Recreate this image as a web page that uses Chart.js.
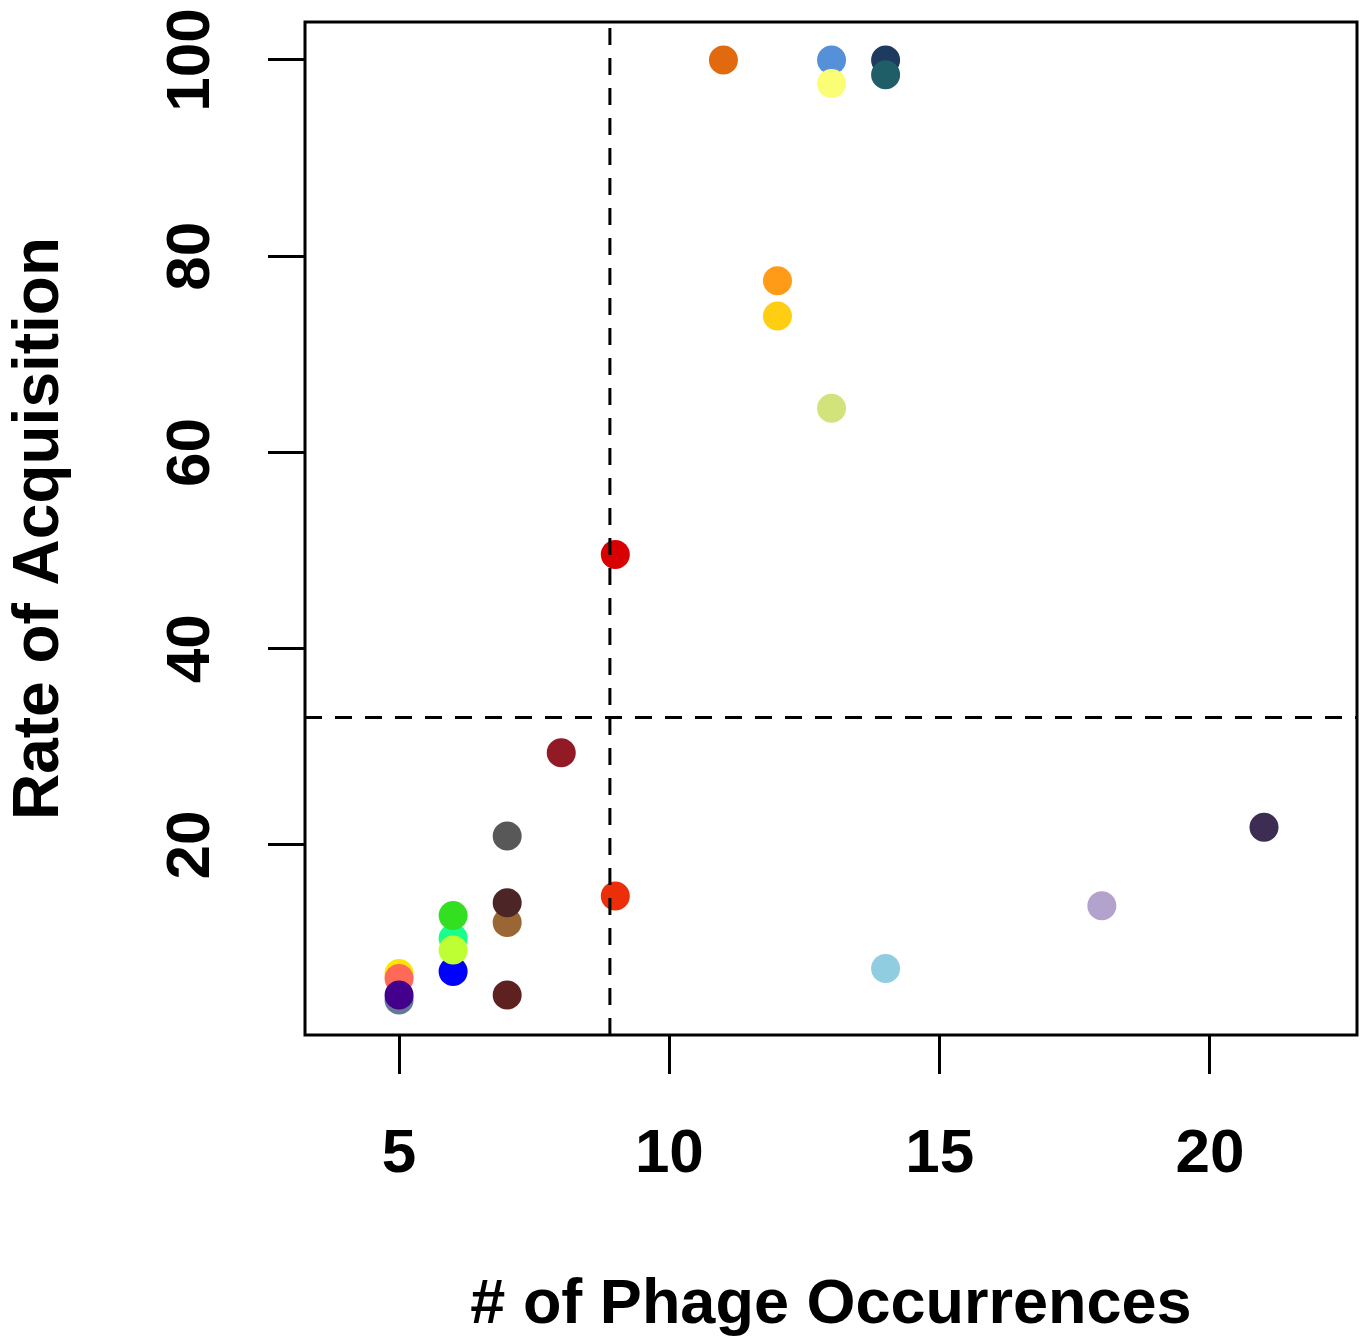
<!DOCTYPE html>
<html>
<head>
<meta charset="utf-8">
<script src="https://cdn.jsdelivr.net/npm/chart.js@4"></script>
<style>
  html, body { margin: 0; padding: 0; background: #ffffff; overflow: hidden; width: 1362px; height: 1337px; }
  #wrap { width: 1362px; height: 1337px; overflow: hidden; }
  #c { display: block; width: 1362px; height: 1337px; }
</style>
</head>
<body>
<div id="wrap"><canvas id="c" width="1362" height="1337"></canvas></div>
<script>
// ---- data ----
const xValues = [11, 13, 14, 14, 13, 12, 12, 13, 9, 8, 7, 7, 7, 7, 9, 6, 6, 6, 6, 5, 5, 5, 5, 14, 18, 21];
const yValues = [100, 100, 100, 98.5, 97.6, 77.5, 73.9, 64.5, 49.6, 29.4, 20.9, 12.1, 14.1, 4.7, 14.8, 7.1, 10.5, 12.8, 9.3, 4.2, 6.9, 6.4, 4.7, 7.4, 13.8, 21.8];
const pointColors = ['#E26A0E', '#5590D9', '#1E3A5E', '#1F5E66', '#FBFD74', '#FF9B17', '#FFCD12', '#D1E37A', '#D80000', '#921A25', '#585858', '#9A6634', '#4C2526', '#5F2020', '#EC2E0A', '#0000FF', '#19FF8C', '#33E021', '#BEFF33', '#667896', '#FFE600', '#FF6A58', '#42008C', '#90CDE0', '#B3A2CB', '#3E2D52'];
const xTicks = [5, 10, 15, 20];
const yTicks = [20, 40, 60, 80, 100];
const xTitle = '# of Phage Occurrences';
const yTitle = 'Rate of Acquisition';
const vLineX = 8.9;
const hLineY = 33;

const points = xValues.map((x, i) => ({ x: x, y: yValues[i] }));

const refLines = {
  id: 'refLines',
  afterDatasetsDraw(chart) {
    const { ctx, chartArea: a, scales: { x, y } } = chart;
    ctx.save();
    ctx.strokeStyle = '#000';
    ctx.lineWidth = 3;
    ctx.setLineDash([17, 13]);
    const px = x.getPixelForValue(vLineX);
    const py = y.getPixelForValue(hLineY);
    ctx.beginPath();
    ctx.moveTo(px, a.bottom); ctx.lineTo(px, a.top);
    ctx.moveTo(a.left, py); ctx.lineTo(a.right, py);
    ctx.stroke();
    ctx.setLineDash([]);
    ctx.lineWidth = 3;
    ctx.strokeRect(a.left, a.top, a.right - a.left, a.bottom - a.top);
    ctx.restore();
  }
};

const font = { family: '"Liberation Sans", Arial, sans-serif', weight: 'bold', size: 62 };
const xTitleFont = { family: '"Liberation Sans", Arial, sans-serif', weight: 'bold', size: 63, lineHeight: 1 };
const yTitleFont = { family: '"Liberation Sans", Arial, sans-serif', weight: 'bold', size: 64, lineHeight: 1 };

function zeroPad(s) { s.paddingTop = 0; s.paddingBottom = 0; s.paddingLeft = 0; s.paddingRight = 0; }

new Chart(document.getElementById('c'), {
  type: 'scatter',
  data: {
    datasets: [{
      data: points,
      backgroundColor: pointColors,
      borderWidth: 0,
      pointRadius: 14.5,
      pointHoverRadius: 14.5
    }]
  },
  options: {
    responsive: false,
    maintainAspectRatio: false,
    animation: false,
    devicePixelRatio: 1,
    plugins: { legend: { display: false }, tooltip: { enabled: false } },
    layout: { autoPadding: false, padding: { top: 22, right: 5, left: 0, bottom: 0 } },
    scales: {
      x: {
        type: 'linear',
        min: 3.26,
        max: 22.72,
        afterBuildTicks(s) { s.ticks = xTicks.map(v => ({ value: v })); },
        afterFit(s) { s.height = 302; zeroPad(s); },
        border: { display: false },
        grid: { drawOnChartArea: false, drawTicks: true, tickLength: 39, tickColor: '#000', lineWidth: 3 },
        ticks: { color: '#000', font: font, padding: 44, maxRotation: 0, autoSkip: false },
        title: { display: true, text: xTitle, color: '#000', font: xTitleFont, padding: { top: 0, bottom: 0 } }
      },
      y: {
        type: 'linear',
        min: 0.63,
        max: 103.87,
        afterBuildTicks(s) { s.ticks = yTicks.map(v => ({ value: v })); },
        afterFit(s) { s.width = 305; zeroPad(s); },
        border: { display: false },
        grid: { drawOnChartArea: false, drawTicks: true, tickLength: 37, tickColor: '#000', lineWidth: 3 },
        ticks: { color: '#000', font: font, padding: 24, minRotation: 90, maxRotation: 90, crossAlign: 'center', autoSkip: false },
        title: { display: true, text: yTitle, color: '#000', font: yTitleFont, padding: { top: 8, bottom: 0 } }
      }
    }
  },
  plugins: [refLines]
});
</script>
</body>
</html>
